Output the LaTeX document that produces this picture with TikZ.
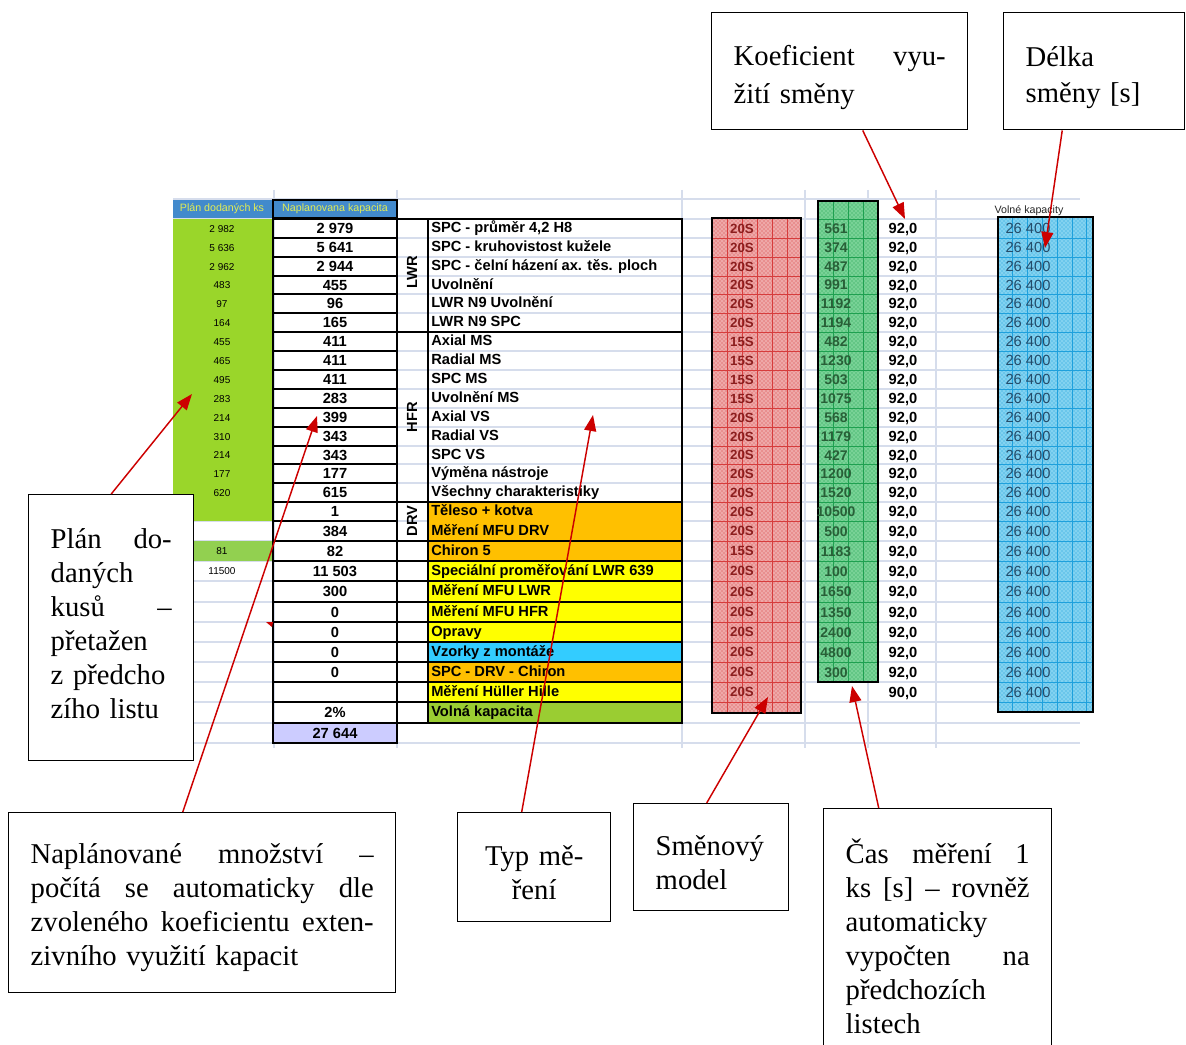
\documentclass[tikz,border=0pt]{standalone}
\usepackage{fontspec}
\setmainfont{Liberation Serif}
\newfontfamily\sheetfont{Liberation Sans}
\usetikzlibrary{arrows.meta,patterns,calc}

\definecolor{gridc}{RGB}{214,221,236}
\definecolor{hdrblue}{RGB}{66,138,204}
\definecolor{hdrtext}{RGB}{226,236,84}
\definecolor{plangreen}{RGB}{154,214,42}
\definecolor{plangreenb}{RGB}{146,208,80}
\definecolor{lavender}{RGB}{204,204,255}
\definecolor{orng}{RGB}{255,192,0}
\definecolor{yel}{RGB}{255,255,0}
\definecolor{cyanc}{RGB}{51,204,255}
\definecolor{volgreen}{RGB}{154,205,50}
\definecolor{redbox}{RGB}{238,168,168}
\definecolor{redline}{RGB}{214,60,60}
\definecolor{redtext}{RGB}{140,30,30}
\definecolor{grnbox}{RGB}{120,210,150}
\definecolor{grnline}{RGB}{30,160,80}
\definecolor{grntext}{RGB}{40,95,55}
\definecolor{bluebox}{RGB}{130,210,240}
\definecolor{blueline}{RGB}{30,160,220}
\definecolor{bluetext}{RGB}{35,75,105}
\definecolor{arrowred}{RGB}{204,0,0}

% callout text: a stack of lines, each either justified or left-aligned
\newcommand\calstack[1]{\vbox{#1}}
\newcommand\calj[1]{\hbox to\hsize{#1}}
\newcommand\call[1]{\hbox to\hsize{#1\hfil}}

\begin{document}
\begin{tikzpicture}[x=0.75pt,y=-0.75pt,
  gridln/.style={draw=gridc,line width=0.8pt},
  frame/.style={draw=black,line width=1.3pt},
  cellnum/.style={font=\sheetfont\bfseries\fontsize{11}{12}\selectfont,inner sep=0pt,text height=8pt,text depth=0pt},
  plannum/.style={font=\sheetfont\fontsize{7.5}{8}\selectfont,inner sep=0pt,text height=5.4pt,text depth=0pt},
  hdr/.style={font=\sheetfont\fontsize{8}{9}\selectfont,text=hdrtext,inner sep=0pt,text height=6pt,text depth=1.5pt},
  lbl/.style={font=\sheetfont\bfseries\fontsize{11}{12}\selectfont,inner sep=0pt,anchor=west,text height=8pt,text depth=2pt},
  grp/.style={font=\sheetfont\bfseries\fontsize{11}{12}\selectfont,inner sep=0pt,rotate=90},
  smtext/.style={font=\sheetfont\bfseries\fontsize{10}{11}\selectfont,text=redtext,inner sep=0pt,text height=7.2pt,text depth=0pt},
  grtext/.style={font=\sheetfont\bfseries\fontsize{10.5}{11}\selectfont,text=grntext,inner sep=0pt,text height=7.5pt,text depth=0pt},
  kftext/.style={font=\sheetfont\bfseries\fontsize{11}{12}\selectfont,inner sep=0pt,text height=8pt,text depth=0pt},
  bltext/.style={font=\sheetfont\fontsize{11}{12}\selectfont,text=bluetext,inner sep=0pt,text height=8pt,text depth=0pt},
  callout/.style={draw=black,line width=1.1pt,fill=white,anchor=north west,inner xsep=16.5pt,inner ysep=0pt,
    font=\fontsize{21.5}{25.5}\selectfont,align=left},
  arr/.style={draw=arrowred,line width=1.1pt,-{Triangle[length=12pt,width=9pt]}},
]
\useasboundingbox (0,0) rectangle (1186,1045);
\clip (0,0) rectangle (1186,1045);

% ---------- sheet grid ----------
\foreach \y in {199,219,238,257,276,294,313,332,351,370,389,408,427,446,464,483,502,521,541,561,581,602,622,642,662,682,702,723,743}
  \draw[gridln] (173,\y) -- (1080,\y);
\foreach \x in {274,397,682,805,868,936}
  \draw[gridln] (\x,190) -- (\x,748);

% ---------- header row ----------
\fill[hdrblue] (173,200) rectangle (397,218);
\node[hdr] (hplan) at (222,209) {Plán dodaných ks};
\node[hdr] (hkap) at (335,209) {Naplanovana kapacita};
\draw[frame] (273,200) rectangle (397,218);
\node[font=\sheetfont\fontsize{8}{9}\selectfont,inner sep=0pt,text=black!85] (hvol) at (1029,211) {Volné kapacity};

% ---------- plan column ----------
\fill[plangreen] (173,219) rectangle (272,521);
\fill[plangreenb] (173,541) rectangle (272,561);
\foreach \y/\v [count=\i] in {228.5/2 982,247.5/5 636,266.5/2 962,285/483,303.5/97,322.5/164,
  341.5/455,360.5/465,379.5/495,398.5/283,417.5/214,436.5/310,455/214,473.5/177,492.5/620,551/81,571/11500}
  \node[plannum] (p\i) at (222,\y) {\v};

% ---------- planned capacity column ----------
\fill[lavender] (273,723) rectangle (397,743);
\foreach \t/\b/\v [count=\i] in {219/238/2 979,238/257/5 641,257/276/2 944,276/294/455,294/313/96,313/332/165,
  332/351/411,351/370/411,370/389/411,389/408/283,408/427/399,427/446/343,446/464/343,464/483/177,483/502/615,
  502/521/1,521/541/384,541/561/82,561/581/11 503,581/602/300,602/622/0,622/642/0,642/662/0,662/682/0,
  682/702/{},702/723/2\%,723/743/27 644}
{
  \draw[frame] (273,\t) rectangle (397,\b);
  \node[cellnum] (n\i) at (335,{(\t+\b)/2}) {\v};
}

% ---------- measurement types ----------
\foreach \t/\b/\txt/\fc [count=\i] in {
  219/238/{SPC - průměr 4,2 H8}/none,
  238/257/{SPC - kruhovistost kužele}/none,
  257/276/{SPC - čelní házení ax. těs. ploch}/none,
  276/294/{Uvolnění}/none,
  294/313/{LWR N9 Uvolnění}/none,
  313/332/{LWR N9 SPC}/none,
  332/351/{Axial MS}/none,
  351/370/{Radial MS}/none,
  370/389/{SPC MS}/none,
  389/408/{Uvolnění MS}/none,
  408/427/{Axial VS}/none,
  427/446/{Radial VS}/none,
  446/464/{SPC VS}/none,
  464/483/{Výměna nástroje}/none,
  483/502/{Všechny charakteristiky}/none,
  502/521/{Těleso + kotva}/orng,
  521/541/{Měření MFU DRV}/orng,
  541/561/{Chiron 5}/orng,
  561/581/{Speciální proměřování LWR 639}/yel,
  581/602/{Měření MFU LWR}/yel,
  602/622/{Měření MFU HFR}/yel,
  622/642/{Opravy}/yel,
  642/662/{Vzorky z montáže}/cyanc,
  662/682/{SPC - DRV - Chiron}/orng,
  682/702/{Měření Hüller Hille}/yel,
  702/723/{Volná kapacita}/volgreen}
{
  \path[fill=\fc] (428,\t) rectangle (682,\b);
  \node[lbl] (l\i) at (431,{(\t+\b)/2}) {\txt};
}
\draw[frame] (397,219) rectangle (682,332);
\draw[frame] (397,332) rectangle (682,502);
\draw[frame] (397,502) rectangle (682,541);
\foreach \t/\b in {541/561,561/581,581/602,602/622,622/642,642/662,662/682,682/702,702/723}
  \draw[frame] (397,\t) rectangle (682,\b);
\draw[frame] (428,219) -- (428,723);
\node[grp] (gLWR) at (412,272) {LWR};
\node[grp] (gHFR) at (412,417) {HFR};
\node[grp] (gDRV) at (412,521) {DRV};

% ---------- shift model column ----------
\path[fill=redbox] (712,218) rectangle (801,713);
\path[pattern=crosshatch dots,pattern color=redline] (712,218) rectangle (801,713);
\foreach \y in {238,257,276,294,313,332,351,370,389,408,427,446,464,483,502,521,541,561,581,602,622,642,662,682,702}
  \draw[redline,line width=0.4pt] (712,\y) -- (801,\y);
\foreach \x in {727,742,757,772,787}
  \draw[redline,line width=0.4pt] (\x,218) -- (\x,713);
\draw[frame] (712,218) rectangle (801,713);
\foreach \y/\v [count=\i] in {228.5/20S,247.5/20S,266.5/20S,285/20S,303.5/20S,322.5/20S,341.5/15S,360.5/15S,
  379.5/15S,398.5/15S,417.5/20S,436.5/20S,455/20S,473.5/20S,492.5/20S,511.5/20S,531/20S,551/15S,571/20S,
  591.5/20S,612/20S,632/20S,652/20S,672/20S,692/20S}
  \node[smtext] (s\i) at (742,\y) {\v};

% ---------- measuring time column ----------
\path[fill=grnbox] (818,201) rectangle (878,682);
\path[pattern=crosshatch dots,pattern color=grnline] (818,201) rectangle (878,682);
\foreach \y in {219,238,257,276,294,313,332,351,370,389,408,427,446,464,483,502,521,541,561,581,602,622,642,662}
  \draw[grnline,line width=0.4pt] (818,\y) -- (878,\y);
\foreach \x in {833,848,863}
  \draw[grnline,line width=0.4pt] (\x,201) -- (\x,682);
\draw[frame] (818,201) rectangle (878,682);
\foreach \y/\v [count=\i] in {228.5/561,247.5/374,266.5/487,285/991,303.5/1192,322.5/1194,341.5/482,360.5/1230,
  379.5/503,398.5/1075,417.5/568,436.5/1179,455/427,473.5/1200,492.5/1520,511.5/10500,531/500,551/1183,
  571/100,591.5/1650,612/1350,632/2400,652/4800,672/300}
  \node[grtext] (t\i) at (836,\y) {\v};

% ---------- shift utilisation coefficient ----------
\foreach \y/\v [count=\i] in {228.5/{92,0},247.5/{92,0},266.5/{92,0},285/{92,0},303.5/{92,0},322.5/{92,0},
  341.5/{92,0},360.5/{92,0},379.5/{92,0},398.5/{92,0},417.5/{92,0},436.5/{92,0},455/{92,0},473.5/{92,0},
  492.5/{92,0},511.5/{92,0},531/{92,0},551/{92,0},571/{92,0},591.5/{92,0},612/{92,0},632/{92,0},652/{92,0},
  672/{92,0},692/{90,0}}
  \node[kftext] (k\i) at (903,\y) {\v};

% ---------- free capacity column ----------
\path[fill=bluebox] (998,217) rectangle (1093,712);
\path[pattern=crosshatch dots,pattern color=blueline] (998,217) rectangle (1093,712);
\foreach \y in {238,257,276,294,313,332,351,370,389,408,427,446,464,483,502,521,541,561,581,602,622,642,662,682,702}
  \draw[blueline,line width=0.4pt] (998,\y) -- (1093,\y);
\foreach \x in {1012,1027,1042,1057,1072,1086}
  \draw[blueline,line width=0.4pt] (\x,217) -- (\x,712);
\draw[frame] (998,217) rectangle (1093,712);
\foreach \y [count=\i] in {228.5,247.5,266.5,285,303.5,322.5,341.5,360.5,379.5,398.5,417.5,436.5,455,473.5,
  492.5,511.5,531,551,571,591.5,612,632,652,672,692}
  \node[bltext] (b\i) at (1028,\y) {26 400};

% small comment marker
\fill[arrowred] (266,622) -- (273,622) -- (272,627) -- cycle;

% ---------- callouts ----------
\node[callout,minimum width=192pt,minimum height=87.75pt,text width=159pt,
  font=\fontsize{21.5}{28.5}\selectfont] (kbox) at (711,12)
  {\calstack{\kern9pt\calj{Koeficient\hfill vyu-}\call{žití směny}}};
\node[callout,minimum width=135.75pt,minimum height=87.75pt,text width=102.75pt,
  font=\fontsize{21.5}{27}\selectfont] (dbox) at (1003,12)
  {\calstack{\kern9pt\call{Délka}\call{směny [s]}}};
\node[callout,minimum width=123.75pt,minimum height=199.5pt,text width=90.75pt] (pbox) at (28,494)
  {\calstack{\kern-6pt\calj{Plán\hfill do-}\call{daných}\calj{kusů\hfill –}\call{přetažen}\call{z předcho}\call{zího listu}}};
\node[callout,minimum width=290.25pt,minimum height=135pt,text width=257.25pt] (nbox) at (8,812)
  {\calstack{\kern8pt\calj{Naplánované\hfill množství\hfill –}\calj{počítá\hfill se\hfill automaticky\hfill dle}%
   \calj{zvoleného\hfill koeficientu\hfill exten-}\call{zivního využití kapacit}}};
\node[callout,minimum width=114.75pt,minimum height=81.75pt,text width=81.75pt,align=center] (tbox) at (457,812)
  {\calstack{\kern8pt\hbox to\hsize{\hfil Typ mě-\hfil}\hbox to\hsize{\hfil ření\hfil}}};
\node[callout,minimum width=116.25pt,minimum height=80.25pt,text width=83.25pt] (sbox) at (633,803)
  {\calstack{\kern8pt\call{Směnový}\call{model}}};
\node[callout,minimum width=171pt,minimum height=183pt,text width=138pt] (cbox) at (823,808)
  {\calstack{\kern8pt\calj{Čas\hfill měření\hfill 1}\calj{ks\hfill [s]\hfill –\hfill rovněž}\call{automaticky}%
   \calj{vypočten\hfill na}\call{předchozích}\call{listech}}};

% ---------- pointers ----------
\coordinate (tipK) at (905,219);
\coordinate (tipD) at (1045,248);
\coordinate (tipP) at (192,394);
\coordinate (tipN) at (317,416);
\coordinate (tipT) at (593,415);
\coordinate (tipS) at (768,697);
\coordinate (tipC) at (852,686);
\draw[arr] ([xshift=17.25pt]kbox.south) -- (tipK);
\draw[arr] ([xshift=-24pt]dbox.south) -- (tipD);
\draw[arr] (pbox.north) -- (tipP);
\draw[arr] ([xshift=-14.6pt]nbox.north) -- (tipN);
\draw[arr] ([xshift=-9.4pt]tbox.north) -- (tipT);
\draw[arr] ([xshift=-3.4pt]sbox.north) -- (tipS);
\draw[arr] ([xshift=-44.25pt]cbox.north) -- (tipC);
\end{tikzpicture}
\end{document}
